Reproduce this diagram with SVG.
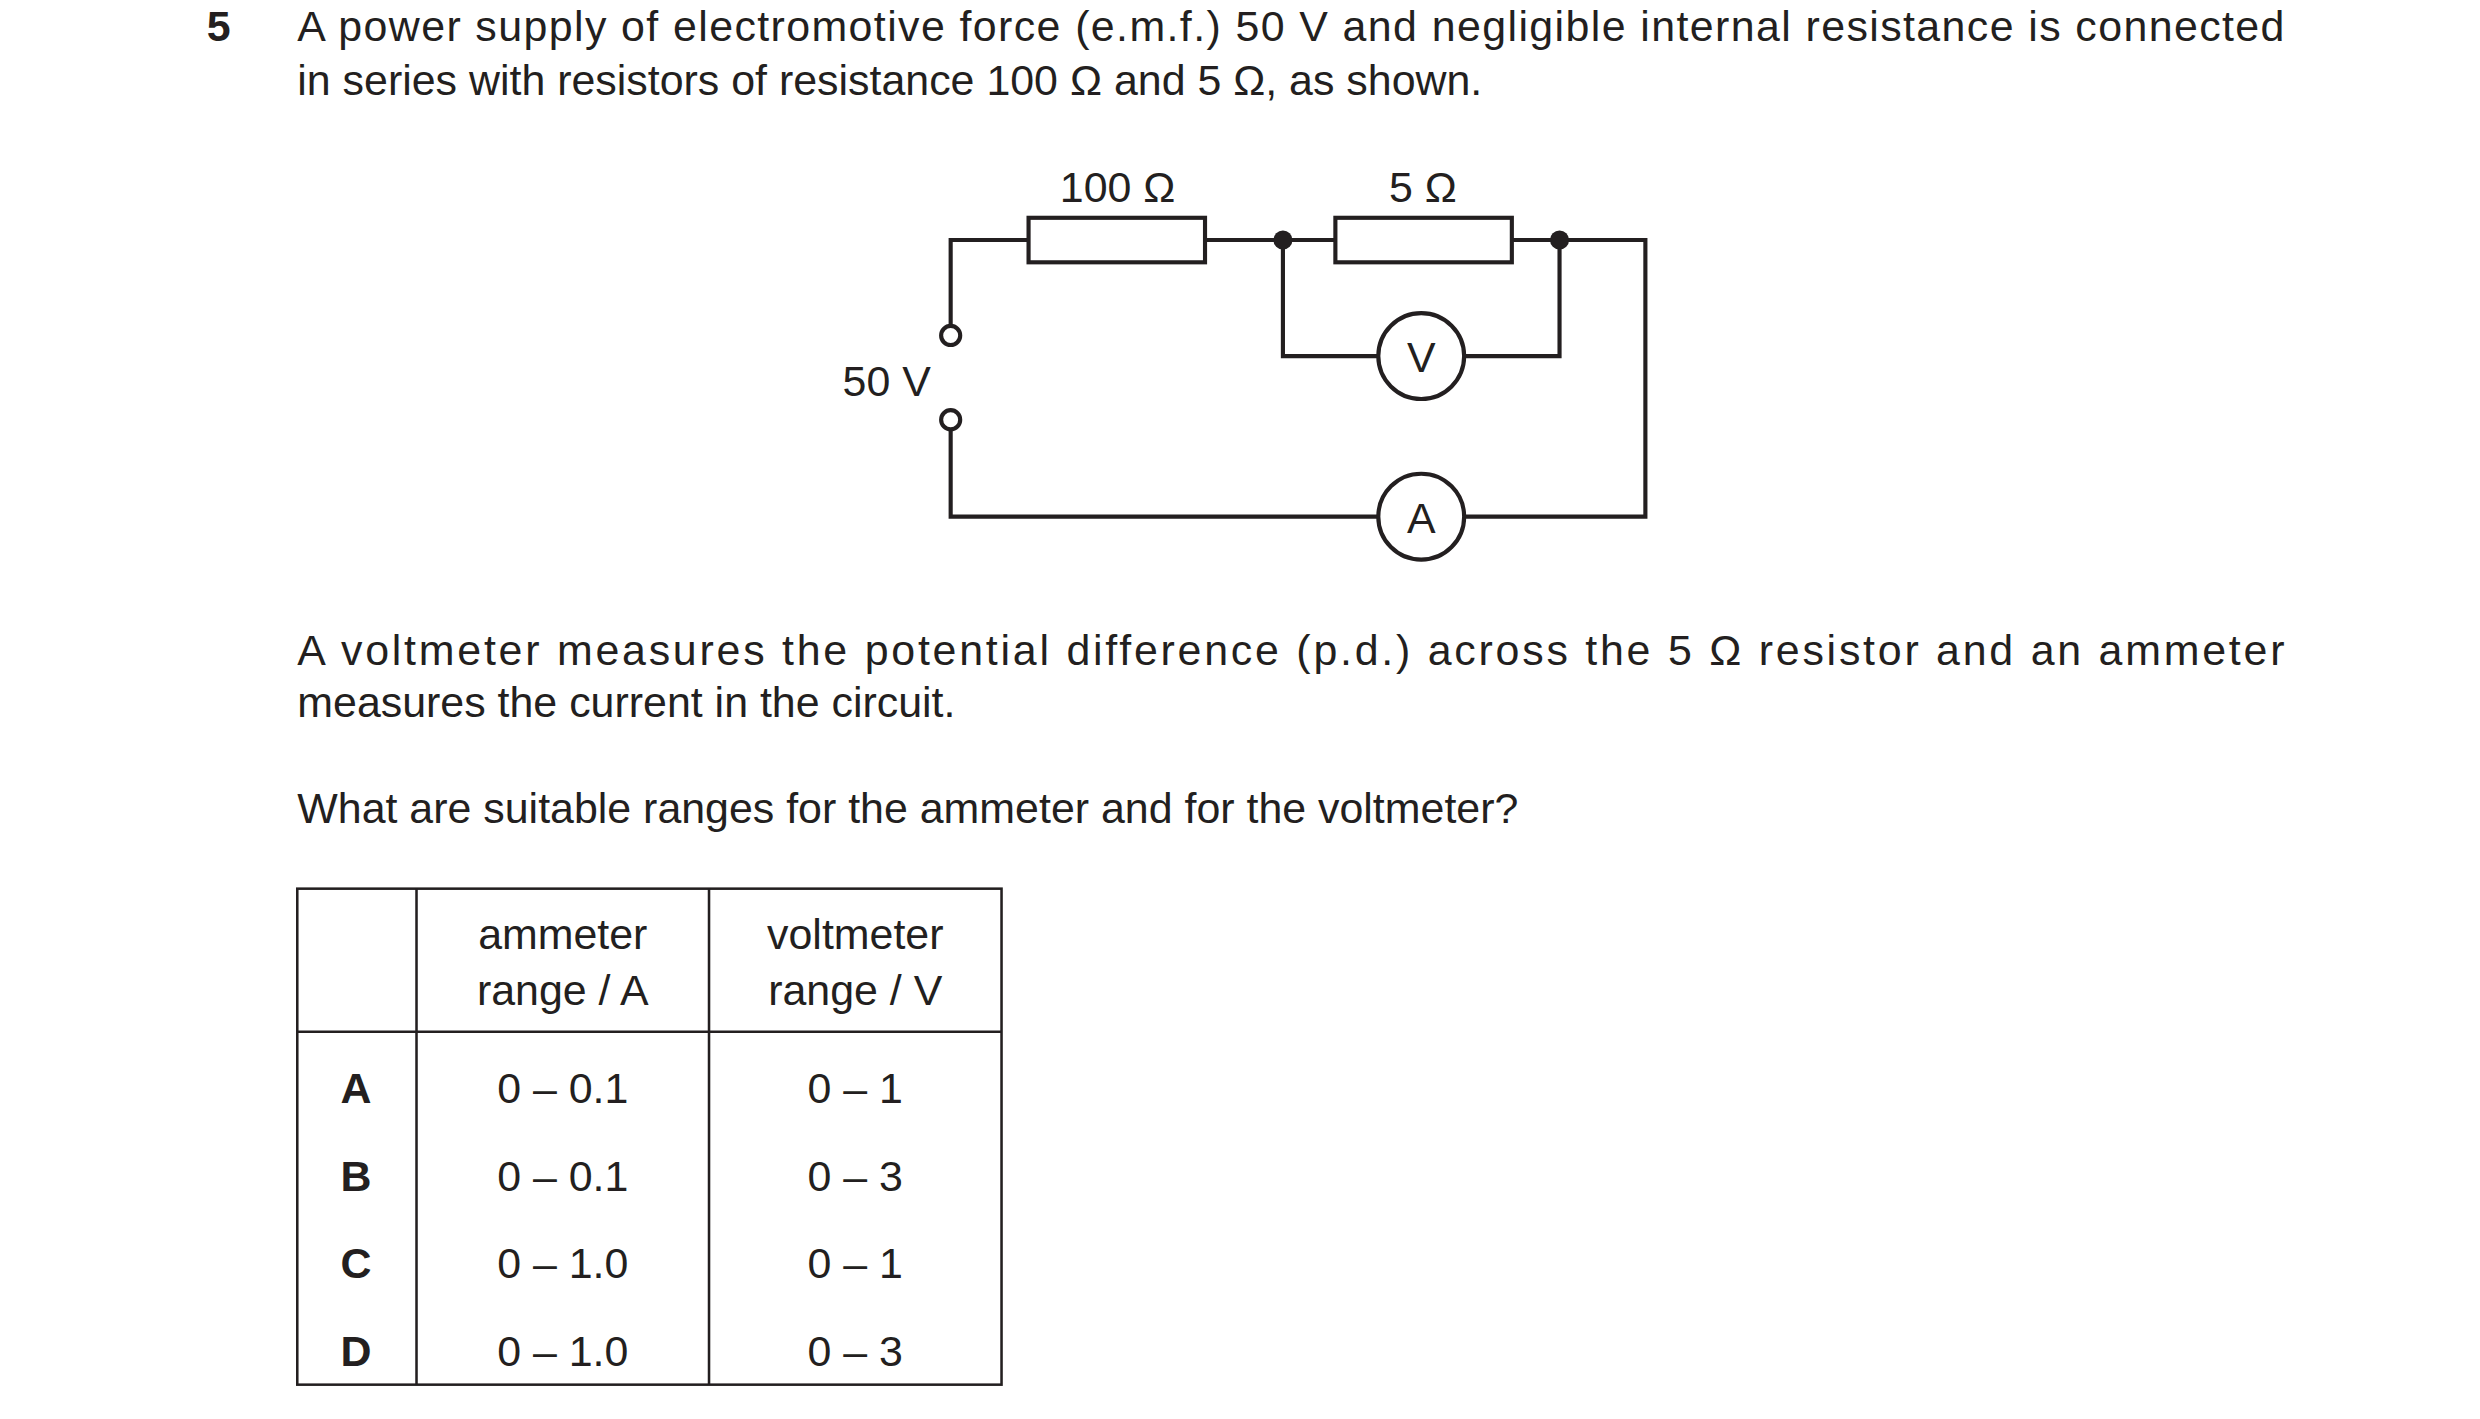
<svg xmlns="http://www.w3.org/2000/svg" width="2480" height="1419" viewBox="0 0 2480 1419">
<style>
text{font-family:"Liberation Sans",Arial,sans-serif;font-size:27px;fill:#231f20}
.c{text-anchor:middle}
.b{font-weight:bold}
.w{fill:none;stroke:#231f20;stroke-width:2.6}
.n{font-family:"Liberation Sans Narrow","Liberation Sans",sans-serif;font-size:27px}
</style>
<rect width="2480" height="1419" fill="#fff"/>
<g transform="scale(1.58974)">
<g id="question">
<text x="130" y="26" class="b">5</text>
<text x="187" y="26" textLength="1250" lengthAdjust="spacing">A power supply of electromotive force (e.m.f.) 50 V and negligible internal resistance is connected</text>
<text x="187" y="60">in series with resistors of resistance 100 Ω and 5 Ω, as shown.</text>
<text x="187" y="418" textLength="1250" lengthAdjust="spacing">A voltmeter measures the potential difference (p.d.) across the 5 Ω resistor and an ammeter</text>
<text x="187" y="451">measures the current in the circuit.</text>
<text x="187" y="518">What are suitable ranges for the ammeter and for the voltmeter?</text>
</g>
<g id="connectors">
<polyline class="w" points="598,205 598,151 647,151"/>
<line class="w" x1="758" y1="151" x2="840" y2="151"/>
<polyline class="w" points="951,151 1035,151 1035,325 921,325"/>
<polyline class="w" points="867,325 598,325 598,270"/>
<polyline class="w" points="807,151 807,224 867,224"/>
<polyline class="w" points="921,224 981,224 981,151"/>
</g>
<g id="supply">
<circle class="w" cx="598" cy="211" r="6"/>
<circle class="w" cx="598" cy="264" r="6"/>
<text x="530" y="249" class="n">50 V</text>
</g>
<g id="r100"><rect class="w" x="647" y="137" width="111" height="28"/><text x="703" y="127" class="c n">100 Ω</text></g>
<g id="r5"><rect class="w" x="840" y="137" width="111" height="28"/><text x="895" y="127" class="c n">5 Ω</text></g>
<g id="node1"><circle cx="807" cy="151" r="6" fill="#231f20"/></g>
<g id="node2"><circle cx="981" cy="151" r="6" fill="#231f20"/></g>
<g id="voltmeter"><circle class="w" cx="894" cy="224" r="27"/><text x="894" y="234" class="c n">V</text></g>
<g id="ammeter"><circle class="w" cx="894" cy="325" r="27"/><text x="894" y="335" class="c n">A</text></g>
<g id="table">
<rect x="187" y="559" width="443" height="312" fill="none" stroke="#231f20" stroke-width="1.6"/>
<line x1="262" y1="559" x2="262" y2="871" stroke="#231f20" stroke-width="1.6"/>
<line x1="446" y1="559" x2="446" y2="871" stroke="#231f20" stroke-width="1.6"/>
<line x1="187" y1="649" x2="630" y2="649" stroke="#231f20" stroke-width="1.6"/>
<text x="354" y="597" class="c">ammeter</text>
<text x="354" y="632" class="c">range / A</text>
<text x="538" y="597" class="c">voltmeter</text>
<text x="538" y="632" class="c">range / V</text>
<text x="224" y="694" class="c b">A</text><text x="354" y="694" class="c">0 – 0.1</text><text x="538" y="694" class="c">0 – 1</text>
<text x="224" y="749" class="c b">B</text><text x="354" y="749" class="c">0 – 0.1</text><text x="538" y="749" class="c">0 – 3</text>
<text x="224" y="804" class="c b">C</text><text x="354" y="804" class="c">0 – 1.0</text><text x="538" y="804" class="c">0 – 1</text>
<text x="224" y="859" class="c b">D</text><text x="354" y="859" class="c">0 – 1.0</text><text x="538" y="859" class="c">0 – 3</text>
</g>
</g>
</svg>
